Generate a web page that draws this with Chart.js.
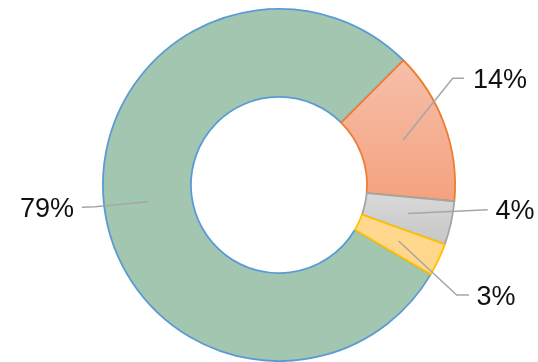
<!DOCTYPE html>
<html><head><meta charset="utf-8">
<script src="https://cdn.jsdelivr.net/npm/chart.js@4/dist/chart.umd.min.js"></script>
<style>html,body{margin:0;padding:0;background:#fff}#wrap{width:538px;height:362px;position:relative}</style>
</head><body><div id="wrap"><canvas id="c" width="538" height="362"></canvas></div>
<script>
const categories = ['A', 'B', 'C', 'D'];
const values = [79, 14, 4, 3];
const labelsText = ['79%', '14%', '4%', '3%'];

const borderColors = ['#5B9BD5', '#ED7D31', '#A5A5A5', '#FFC000'];
const gradStops = [['#A3C6B1', '#A3C6B1'], ['#F6BFAA', '#F4A27F'], ['#D9D9D9', '#C6C6C6'], ['#FFD98F', '#FFD68A']];
// label layout: text centre, elbow, end of leader
const labelLayout = [
  {tx: 47, ty: 209, elbow: [95, 206.7], end: [82, 207.3]},
  {tx: 500, ty: 80, elbow: [452.7, 78.3], end: [464, 78.3]},
  {tx: 515, ty: 211, elbow: null, end: [487.7, 209.8]},
  {tx: 496, ty: 297, elbow: [456.7, 295], end: [469, 295]}
];

const gradientPlugin = {
  id: 'grad',
  beforeDatasetsDraw(chart) {
    const ctx = chart.ctx;
    chart.getDatasetMeta(0).data.forEach((arc, i) => {
      let ymin = Infinity, ymax = -Infinity;
      const n = 48;
      for (let k = 0; k <= n; k++) {
        const a = arc.startAngle + (arc.endAngle - arc.startAngle) * k / n;
        for (const r of [arc.innerRadius, arc.outerRadius]) {
          const y = arc.y + Math.sin(a) * r;
          ymin = Math.min(ymin, y); ymax = Math.max(ymax, y);
        }
      }
      const g = ctx.createLinearGradient(0, ymin, 0, ymax);
      g.addColorStop(0, gradStops[i][0]);
      g.addColorStop(1, gradStops[i][1]);
      arc.options.backgroundColor = g;
    });
  }
};

const leaderPlugin = {
  id: 'leaders',
  afterDatasetsDraw(chart) {
    const ctx = chart.ctx;
    const arcs = chart.getDatasetMeta(0).data;
    ctx.save();
    arcs.forEach((arc, i) => {
      const p = arc.tooltipPosition();
      const L = labelLayout[i];
      ctx.strokeStyle = '#A6A6A6';
      ctx.lineWidth = 1.5;
      ctx.beginPath();
      ctx.moveTo(p.x, p.y);
      if (L.elbow) ctx.lineTo(L.elbow[0], L.elbow[1]);
      ctx.lineTo(L.end[0], L.end[1]);
      ctx.stroke();
      ctx.fillStyle = '#111';
      ctx.font = '27px "Liberation Sans", Arial, sans-serif';
      ctx.textAlign = 'center';
      ctx.textBaseline = 'middle';
      ctx.fillText(labelsText[i], L.tx, L.ty + 1);
    });
    ctx.restore();
  }
};

new Chart(document.getElementById('c'), {
  type: 'doughnut',
  data: {
    labels: categories,
    datasets: [{
      data: values,
      backgroundColor: gradStops.map(s => s[0]),
      borderColor: borderColors,
      borderWidth: 1.8,
      borderAlign: 'center'
    }]
  },
  options: {
    responsive: false,
    animation: false,
    rotation: 120.5,
    cutout: '50%',
    layout: {padding: {left: 20, right: 0, top: 8, bottom: 0}},
    plugins: {legend: {display: false}, tooltip: {enabled: false}}
  },
  plugins: [gradientPlugin, leaderPlugin]
});
</script>
</body></html>
